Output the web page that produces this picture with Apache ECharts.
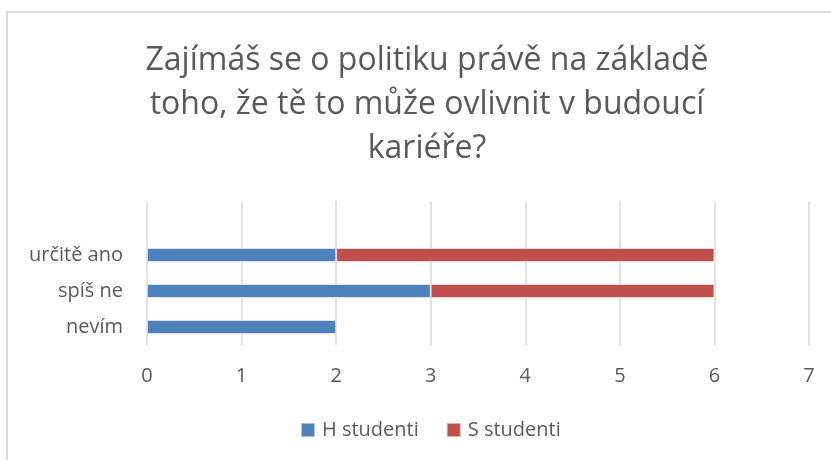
<!DOCTYPE html>
<html>
<head>
<meta charset="utf-8">
<script src="https://cdn.jsdelivr.net/npm/echarts@6/dist/echarts.min.js"></script>
<style>
  html, body { margin: 0; padding: 0; background: #fff; }
  #frame {
    position: absolute; left: 6px; top: 11px; width: 900px; height: 500px;
    border-top: 2px solid #dddddd; border-left: 2px solid #dddddd;
  }
  #chart { position: absolute; left: 0; top: 0; width: 831px; height: 460px; }
</style>
</head>
<body>
<div id="frame"></div>
<div id="chart"></div>
<script>
// categories bottom to top; the top one is empty in the source sheet
const categories = ["nevím", "spíš ne", "určitě ano", ""];
const hStudenti = [2, 3, 2, null];
const sStudenti = [null, 3, 4, null];
const xTicks = [0, 7, 1]; // min, max, interval

const titleText = "Zajímáš se o politiku právě na základě\ntoho, že tě to může ovlivnit v budoucí\nkariéře?";
const textColor = "#595959";
const font = "'Open Sans', sans-serif";

const chart = echarts.init(document.getElementById("chart"), null, { renderer: "canvas" });

const barStyle = (color) => ({
  color,
  borderColor: "rgba(255,255,255,0.55)",
  borderWidth: 1,
});

chart.setOption({
  animation: false,
  textStyle: { fontFamily: font, color: textColor },
  title: {
    text: titleText,
    // the chart area sits a bit right of the page centre
    left: 422,
    textAlign: "center",
    top: 34,
    textStyle: {
      fontFamily: font,
      fontSize: 32,
      fontWeight: "normal",
      color: textColor,
      lineHeight: 44,
    },
  },
  legend: {
    top: 415,
    left: 295,
    itemWidth: 14,
    itemHeight: 14,
    itemGap: 27,
    icon: "rect",
    textStyle: { fontFamily: font, fontSize: 20, color: textColor, padding: [0, 0, 0, 2] },
    data: ["H studenti", "S studenti"],
  },
  grid: { left: 147, right: 22, top: 201, bottom: 115, containLabel: false },
  xAxis: {
    type: "value",
    min: xTicks[0],
    max: xTicks[1],
    interval: xTicks[2],
    axisLine: { show: false },
    axisTick: { show: false },
    axisLabel: { fontFamily: font, fontSize: 20, color: textColor, margin: 21 },
    splitLine: { show: true, lineStyle: { color: "#d9d9d9", width: 1.5 } },
  },
  yAxis: {
    type: "category",
    data: categories,
    axisLine: { show: false },
    axisTick: { show: false },
    axisLabel: { fontFamily: font, fontSize: 20, color: textColor, margin: 24 },
    splitLine: { show: false },
  },
  series: [
    {
      name: "H studenti",
      type: "bar",
      stack: "total",
      barWidth: 14,
      data: hStudenti,
      itemStyle: barStyle("#4f81bd"),
    },
    {
      name: "S studenti",
      type: "bar",
      stack: "total",
      barWidth: 14,
      data: sStudenti,
      itemStyle: barStyle("#c0504d"),
    },
  ],
});
</script>
</body>
</html>
